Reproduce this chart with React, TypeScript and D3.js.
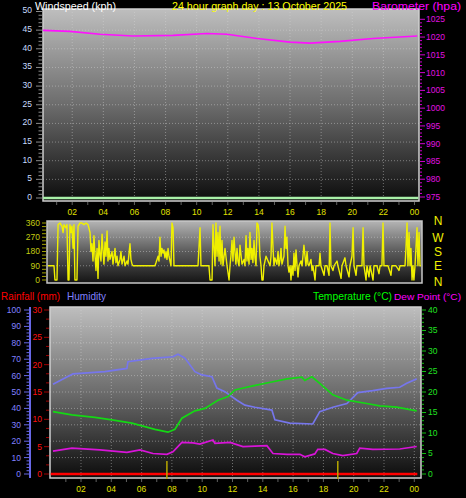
import React from 'react';
import * as d3 from 'd3';

const W = 466;
const H = 498;
const FONT = "'Liberation Sans', Arial, sans-serif";

// ---------- tick labels ----------
const timeTickHours = [2, 4, 6, 8, 10, 12, 14, 16, 18, 20, 22, 24];
const timeTickLabels = ['02', '04', '06', '08', '10', '12', '14', '16', '18', '20', '22', '00'];
const windSpeedTicks = [0, 5, 10, 15, 20, 25, 30, 35, 40, 45, 50];
const baroTicks = [975, 980, 985, 990, 995, 1000, 1005, 1010, 1015, 1020, 1025];
const dirTicks = [0, 90, 180, 270, 360];
const compassLabels = ['N', 'E', 'S', 'W', 'N']; // from 0 to 360
const humTicks = [0, 10, 20, 30, 40, 50, 60, 70, 80, 90, 100];
const rainTicks = [0, 5, 10, 15, 20, 25, 30];
const tempTicks = [0, 5, 10, 15, 20, 25, 30, 35, 40];

// ---------- data: [hour of day, value] ----------
const windSpeed: [number, number][] = [[0.12, 0], [24.25, 0]];

const barometer: [number, number][] = [
  [0.12, 1021.9], [1.86, 1021.6], [3.79, 1020.8], [5.91, 1020.3], [8.48, 1020.5],
  [10.66, 1021.0], [11.95, 1020.8], [13.88, 1019.6], [16.0, 1018.6], [17.28, 1018.3],
  [19.21, 1018.8], [21.33, 1019.6], [24.18, 1020.3],
];

const windDirection: [number, number][] = [
  [0.06, 90], [0.45, 90], [0.51, 0], [0.64, 0], [0.71, 350], [0.83, 360], [0.96, 340], [1.03, 300], [1.09, 350], [1.22, 330],
  [1.28, 350], [1.35, 0], [1.41, 0], [1.47, 350], [1.54, 300], [1.6, 340], [1.67, 200], [1.73, 350], [1.79, 0], [1.92, 0],
  [1.99, 340], [2.12, 360], [2.24, 360], [2.37, 350], [2.5, 360], [2.63, 350], [2.76, 300], [2.82, 180], [2.88, 230], [2.95, 120],
  [3.01, 280], [3.08, 150], [3.14, 60], [3.21, 200], [3.27, 10], [3.33, 250], [3.4, 160], [3.46, 120], [3.53, 290], [3.59, 190],
  [3.65, 100], [3.72, 240], [3.78, 150], [3.85, 310], [3.91, 120], [3.97, 200], [4.04, 130], [4.17, 180], [4.23, 100], [4.36, 200],
  [4.42, 110], [4.49, 150], [4.55, 90], [4.68, 130], [4.74, 180], [4.81, 100], [4.94, 150], [5.0, 90], [5.13, 120], [5.19, 100],
  [5.32, 230], [5.38, 130], [5.45, 100], [5.51, 90], [5.96, 90], [6.47, 90], [6.92, 90], [6.99, 110], [7.12, 150], [7.18, 120],
  [7.24, 270], [7.31, 150], [7.37, 200], [7.44, 170], [7.5, 190], [7.56, 140], [7.63, 180], [7.69, 130], [7.76, 200], [7.82, 150],
  [7.95, 90], [8.01, 360], [8.08, 330], [8.14, 90], [8.53, 90], [9.17, 90], [9.68, 90], [9.81, 330], [9.87, 90], [10.38, 90],
  [10.45, 0], [10.58, 0], [10.64, 350], [10.71, 200], [10.77, 90], [10.83, 360], [10.9, 150], [10.96, 300], [11.03, 120], [11.09, 340],
  [11.15, 100], [11.22, 250], [11.28, 90], [11.41, 200], [11.54, 90], [11.67, 0], [11.73, 90], [11.79, 150], [11.86, 250], [11.92, 120],
  [11.99, 270], [12.05, 180], [12.11, 100], [12.18, 200], [12.24, 120], [12.31, 90], [12.37, 220], [12.5, 100], [12.63, 130], [12.69, 90],
  [12.76, 280], [12.82, 120], [12.88, 200], [12.95, 100], [13.01, 300], [13.08, 130], [13.14, 200], [13.2, 110], [13.27, 250], [13.33, 140],
  [13.4, 90], [13.46, 360], [13.53, 350], [13.59, 300], [13.65, 150], [13.72, 90], [13.78, 0], [13.85, 0], [13.91, 90], [14.04, 150],
  [14.17, 120], [14.3, 90], [14.36, 150], [14.42, 360], [14.49, 200], [14.55, 90], [14.61, 140], [14.74, 100], [14.81, 180], [14.87, 90],
  [14.94, 130], [15.0, 200], [15.06, 100], [15.19, 150], [15.26, 340], [15.32, 200], [15.38, 270], [15.45, 90], [15.51, 50], [15.58, 90],
  [15.64, 0], [15.7, 90], [15.77, 30], [15.83, 170], [15.9, 60], [15.96, 190], [16.03, 90], [16.09, 20], [16.15, 90], [16.28, 120],
  [16.35, 90], [16.47, 220], [16.54, 150], [16.6, 90], [16.67, 180], [16.73, 100], [16.79, 90], [16.92, 130], [16.99, 60], [17.05, 90],
  [17.18, 0], [17.24, 90], [17.44, 90], [17.5, 170], [17.56, 90], [17.76, 30], [17.82, 90], [17.95, 90], [18.08, 30], [18.14, 360],
  [18.2, 90], [18.33, 60], [18.4, 90], [18.59, 120], [18.65, 90], [18.85, 10], [18.91, 90], [19.1, 140], [19.17, 90], [19.36, 20],
  [19.42, 90], [19.55, 150], [19.62, 330], [19.68, 90], [19.81, 30], [19.87, 90], [20.06, 90], [20.19, 90], [20.26, 330], [20.32, 90],
  [20.45, 0], [20.51, 90], [20.64, 20], [20.71, 90], [20.9, 0], [20.96, 90], [21.15, 90], [21.28, 40], [21.35, 90], [21.47, 90],
  [21.54, 360], [21.6, 90], [21.86, 90], [22.05, 30], [22.11, 90], [22.37, 90], [22.56, 60], [22.63, 90], [22.95, 90], [23.01, 200],
  [23.08, 360], [23.14, 90], [23.21, 300], [23.27, 90], [23.33, 200], [23.4, 0], [23.46, 90], [23.52, 0], [23.59, 90], [23.72, 330],
  [23.78, 90], [23.85, 300], [23.91, 90], [23.97, 90],
];

const humidity: [number, number][] = [
  [0.15, 54.7], [0.94, 58.5], [1.47, 61], [3.58, 62.4], [5.03, 64.4], [5.1, 68.5], [6.68, 70.5], [8.07, 71.5],
  [8.4, 73], [8.86, 70.7], [9.52, 62.4], [9.98, 60.4], [10.64, 59.3], [10.97, 52.4], [11.5, 50.2], [12.29, 45],
  [12.82, 42], [13.48, 40.7], [14.6, 39], [14.8, 33], [15.78, 31], [17.3, 30.5], [17.76, 38], [18.62, 40.7],
  [19.55, 43], [20.27, 49.6], [21.26, 50.8], [22.18, 52.2], [23.04, 52.9], [23.5, 55.3], [24.16, 58],
];

const temperature: [number, number][] = [
  [0.15, 15.2], [1.4, 14.4], [2.92, 13.8], [4.04, 13.2], [5.36, 12.4], [6.88, 10.9], [7.74, 10.2], [8.2, 10.9],
  [8.66, 13.6], [9.52, 15.4], [10.18, 16], [11.04, 18], [11.7, 18.9], [12.16, 20.5], [12.49, 20.8], [13.35, 21.5],
  [14.67, 22.5], [15.6, 23.2], [16.58, 23.6], [16.77, 22.8], [17.24, 23.7], [17.76, 22.1], [18.62, 19.3], [19.55, 18],
  [20.86, 17.2], [21.72, 16.6], [22.84, 16.3], [24.16, 15.4],
];

const dewPoint: [number, number][] = [
  [0.15, 5.6], [1.4, 6.3], [3.25, 5.9], [5.03, 5.3], [5.89, 5.9], [6.75, 5.0], [7.67, 4.8], [8.07, 5.4],
  [8.66, 7.7], [9.39, 7.6], [9.85, 7.3], [10.71, 8.3], [10.84, 7.5], [11.83, 7.7], [12.69, 6.7], [14.27, 6.9],
  [14.67, 5.0], [15.6, 4.8], [16.45, 4.8], [16.77, 4.2], [17.43, 4.9], [17.63, 6.0], [18.1, 6.0], [18.62, 5.0],
  [19.28, 4.5], [20.2, 5.0], [20.4, 6.3], [21.26, 6.0], [23.04, 6.1], [24.16, 6.7],
];

const rainfall: [number, number][] = [[0.0, 0], [24.2, 0]];

const sunEvents = [7.67, 18.95]; // sunrise, sunset

// ---------- layout ----------
const top = { x0: 43, x1: 419, y0: 9, y1: 201 };
const dirP = { x0: 47, x1: 422, y0: 221, y1: 283 };
const bot = { x0: 50, x1: 421, y0: 307, y1: 478 };

const xTop = d3.scaleLinear().domain([0, 24]).range([41.1, 414.5]);
const xDir = d3.scaleLinear().domain([0, 24]).range([47, 421.4]);
const xBot = d3.scaleLinear().domain([0, 24]).range([50.7, 414.3]);

const yWs = d3.scaleLinear().domain([0, 50]).range([198, 11.5]);
const yBaro = d3.scaleLinear().domain([975, 1025]).range([197, 19.3]);
const yDir = d3.scaleLinear().domain([0, 360]).range([280, 223]);
const yHum = d3.scaleLinear().domain([0, 100]).range([474, 310]);
const yRain = d3.scaleLinear().domain([0, 30]).range([474, 310]);
const yTemp = d3.scaleLinear().domain([0, 40]).range([474, 310]);

function mkLine(xs: d3.ScaleLinear<number, number>, ys: d3.ScaleLinear<number, number>) {
  return d3.line<[number, number]>().x((d) => xs(d[0])).y((d) => ys(d[1]));
}

const gridStyle = { stroke: '#d8d8d8', strokeOpacity: 0.45, strokeWidth: 1, strokeDasharray: '1,2' };

export default function App() {
  const hoursTop = d3.range(1, 25);
  const wsMinor = d3.range(0, 51, 1);
  const baroMinor = d3.range(975, 1026, 1);
  const dirMinor = d3.range(0, 361, 22.5);
  const humMinor = d3.range(0, 101, 2);
  const rainMinor = d3.range(0, 30.01, 5 / 3);
  const tempMinor = d3.range(0, 41, 1);

  return (
    <div style={{ position: 'fixed', left: 0, top: 0, width: W, height: H, background: '#000' }}>
      <svg width={W} height={H} style={{ display: 'block', background: '#000' }} fontFamily={FONT}>
        <defs>
          <linearGradient id="bgTop" x1="0" y1="0" x2="0" y2="1">
            <stop offset="0%" stopColor="#bebebe" />
            <stop offset="50%" stopColor="#6c6c6c" />
            <stop offset="100%" stopColor="#0c0c0c" />
          </linearGradient>
          <linearGradient id="bgDir" x1="0" y1="0" x2="0" y2="1">
            <stop offset="0%" stopColor="#b4b4b4" />
            <stop offset="50%" stopColor="#5a5a5a" />
            <stop offset="100%" stopColor="#141414" />
          </linearGradient>
          <clipPath id="clipTop"><rect x={top.x0} y={top.y0} width={top.x1 - top.x0} height={top.y1 - top.y0 + 1} /></clipPath>
          <clipPath id="clipDir"><rect x={dirP.x0} y={dirP.y0} width={dirP.x1 - dirP.x0} height={dirP.y1 - dirP.y0} /></clipPath>
          <clipPath id="clipBot"><rect x={bot.x0} y={bot.y0} width={bot.x1 - bot.x0} height={bot.y1 - bot.y0} /></clipPath>
        </defs>

        {/* ================= TOP PANEL ================= */}
        <rect x={top.x0} y={top.y0} width={top.x1 - top.x0} height={top.y1 - top.y0} fill="url(#bgTop)" />
        {windSpeedTicks.filter((v) => v > 0 && v < 50).map((v) => (
          <line key={'gt' + v} x1={top.x0} x2={top.x1} y1={yWs(v)} y2={yWs(v)} {...gridStyle} />
        ))}
        {timeTickHours.filter((h) => h < 24).map((h) => (
          <line key={'gvt' + h} x1={xTop(h)} x2={xTop(h)} y1={top.y0} y2={top.y1} {...gridStyle} />
        ))}
        <rect x={top.x0} y={top.y0} width={top.x1 - top.x0} height={top.y1 - top.y0} fill="none" stroke="#d0d0d0" strokeWidth={1.5} />
        <g clipPath="url(#clipTop)">
          <path d={mkLine(xTop, yWs)(windSpeed) || ''} fill="none" stroke="#a8f0a8" strokeWidth={2.5} />
          <path d={mkLine(xTop, yBaro)(barometer) || ''} fill="none" stroke="#ff10ff" strokeWidth={1.7} />
        </g>
        {/* left wind speed axis */}
        {wsMinor.map((v) => (
          <line key={'wsm' + v} x1={v % 5 === 0 ? 36 : 38.5} x2={42} y1={yWs(v)} y2={yWs(v)} stroke="#8a8a8a" strokeWidth={1} />
        ))}
        {windSpeedTicks.map((v) => (
          <text key={'wsl' + v} x={32} y={yWs(v) - 1} dy="0.35em" textAnchor="end" fontSize={8.5} fill="#c8dcff">{v}</text>
        ))}
        {/* right barometer axis */}
        {baroMinor.map((v) => (
          <line key={'bm' + v} x1={420} x2={v % 5 === 0 ? 425 : 422} y1={yBaro(v)} y2={yBaro(v)} stroke="#d000d0" strokeWidth={1} />
        ))}
        {baroTicks.map((v) => (
          <text key={'bl' + v} x={426} y={yBaro(v)} dy="0.35em" fontSize={8.5} fill="#e010e0">{v}</text>
        ))}
        {/* hourly ticks + time labels */}
        {hoursTop.map((h) => (
          <line key={'ht' + h} x1={xTop(h)} x2={xTop(h)} y1={top.y1 + 1} y2={top.y1 + 4} stroke="#606060" />
        ))}
        {timeTickHours.map((h, i) => (
          <text key={'tl' + h} x={xTop(h)} y={212} dy="0.35em" textAnchor="middle" fontSize={8.5} fill="#e0e000">{timeTickLabels[i]}</text>
        ))}

        {/* header */}
        <text x={35} y={9.5} fontSize={11.5} fill="#ffffff" textLength={81} lengthAdjust="spacingAndGlyphs">Windspeed (kph)</text>
        <text x={172} y={9.5} fontSize={11.5} fill="#ffff00" textLength={175} lengthAdjust="spacingAndGlyphs">24 hour graph day : 13 October 2025</text>
        <text x={372} y={9.5} fontSize={11.5} fill="#ff00ff" textLength={89} lengthAdjust="spacingAndGlyphs">Barometer (hpa)</text>

        {/* ================= WIND DIRECTION PANEL ================= */}
        <rect x={dirP.x0} y={dirP.y0} width={dirP.x1 - dirP.x0} height={dirP.y1 - dirP.y0} fill="url(#bgDir)" />
        {dirTicks.filter((v) => v > 0 && v < 360).map((v) => (
          <line key={'gd' + v} x1={dirP.x0} x2={dirP.x1} y1={yDir(v)} y2={yDir(v)} {...gridStyle} />
        ))}
        <rect x={dirP.x0} y={dirP.y0} width={dirP.x1 - dirP.x0} height={dirP.y1 - dirP.y0} fill="none" stroke="#c8c8c8" strokeWidth={1.5} />
        <g clipPath="url(#clipDir)">
          <path d={mkLine(xDir, yDir)(windDirection) || ''} fill="none" stroke="#f0f000" strokeWidth={1.4} strokeLinejoin="round" />
        </g>
        {dirMinor.map((v) => (
          <line key={'dm' + v} x1={42} x2={46} y1={yDir(v)} y2={yDir(v)} stroke="#a0a000" strokeWidth={1} />
        ))}
        {dirTicks.map((v) => (
          <text key={'dl' + v} x={40} y={yDir(v)} dy="0.35em" textAnchor="end" fontSize={8.5} fill="#c4cc10">{v}</text>
        ))}
        {dirTicks.map((v, i) => (
          <text key={'cl' + v} x={438} y={yDir(v) + (v === 0 ? 1.5 : v === 360 ? -2 : 0)} dy="0.36em" textAnchor="middle" fontSize={12} fill="#f0f000">{compassLabels[i]}</text>
        ))}

        {/* ================= BOTTOM PANEL ================= */}
        <text x={1} y={300} fontSize={11.5} fill="#ff0000" textLength={59} lengthAdjust="spacingAndGlyphs">Rainfall (mm)</text>
        <text x={67} y={300} fontSize={11.5} fill="#8080ff" textLength={39} lengthAdjust="spacingAndGlyphs">Humidity</text>
        <text x={313} y={300} fontSize={10} fill="#00ff00" textLength={79} lengthAdjust="spacingAndGlyphs">Temperature (°C)</text>
        <text x={394} y={300} fontSize={9.6} fill="#ff00ff" textLength={67} lengthAdjust="spacingAndGlyphs">Dew Point (°C)</text>

        <rect x={bot.x0} y={bot.y0} width={bot.x1 - bot.x0} height={bot.y1 - bot.y0} fill="url(#bgTop)" />
        {humTicks.filter((v) => v > 0 && v < 100).map((v) => (
          <line key={'gh' + v} x1={bot.x0} x2={bot.x1} y1={yHum(v)} y2={yHum(v)} {...gridStyle} />
        ))}
        {timeTickHours.map((h) => (
          <line key={'gvb' + h} x1={xBot(h)} x2={xBot(h)} y1={bot.y0} y2={bot.y1} {...gridStyle} />
        ))}
        <rect x={bot.x0} y={bot.y0} width={bot.x1 - bot.x0} height={bot.y1 - bot.y0} fill="none" stroke="#d0d0d0" strokeWidth={1.5} />
        <g clipPath="url(#clipBot)">
          <path d={mkLine(xBot, yRain)(rainfall) || ''} fill="none" stroke="#ff0000" strokeWidth={2.5} />
          <path d={mkLine(xBot, yHum)(humidity) || ''} fill="none" stroke="#7676ec" strokeWidth={1.7} />
          <path d={mkLine(xBot, yTemp)(temperature) || ''} fill="none" stroke="#14d814" strokeWidth={1.7} />
          <path d={mkLine(xBot, yTemp)(dewPoint) || ''} fill="none" stroke="#d814d8" strokeWidth={1.7} />
        </g>
        {sunEvents.map((h) => (
          <line key={'sun' + h} x1={xBot(h)} x2={xBot(h)} y1={461} y2={479} stroke="#b8a800" strokeWidth={1.5} />
        ))}
        {/* humidity axis */}
        <line x1={30} x2={30} y1={bot.y0} y2={bot.y1} stroke="#6868e8" strokeWidth={2} />
        {humMinor.map((v) => (
          <line key={'hm' + v} x1={v % 10 === 0 ? 24 : 26.5} x2={29} y1={yHum(v)} y2={yHum(v)} stroke="#6868e8" strokeWidth={1} />
        ))}
        {humTicks.map((v) => (
          <text key={'hl' + v} x={21} y={yHum(v)} dy="0.35em" textAnchor="end" fontSize={8.5} fill="#8080ff">{v}</text>
        ))}
        {/* rainfall axis */}
        {rainMinor.map((v, i) => (
          <line key={'rm' + i} x1={i % 3 === 0 ? 44 : 46} x2={49} y1={yRain(v)} y2={yRain(v)} stroke="#a00000" strokeWidth={1} />
        ))}
        {rainTicks.map((v) => (
          <text key={'rl' + v} x={42} y={yRain(v)} dy="0.35em" textAnchor="end" fontSize={8.5} fill="#ff1010">{v}</text>
        ))}
        {/* temperature axis */}
        {tempMinor.map((v) => (
          <line key={'tm' + v} x1={422} x2={v % 5 === 0 ? 426 : 424} y1={yTemp(v)} y2={yTemp(v)} stroke="#10c010" strokeWidth={1} />
        ))}
        {tempTicks.map((v) => (
          <text key={'tl2' + v} x={428} y={yTemp(v)} dy="0.35em" fontSize={8.5} fill="#20e020">{v}</text>
        ))}
        {/* bottom time axis */}
        {hoursTop.map((h) => (
          <line key={'hb' + h} x1={xBot(h)} x2={xBot(h)} y1={bot.y1 + 1} y2={bot.y1 + 4} stroke="#606060" />
        ))}
        {timeTickHours.map((h, i) => (
          <text key={'tb' + h} x={xBot(h)} y={489} dy="0.35em" textAnchor="middle" fontSize={8.5} fill="#e0e000">{timeTickLabels[i]}</text>
        ))}
      </svg>
    </div>
  );
}
